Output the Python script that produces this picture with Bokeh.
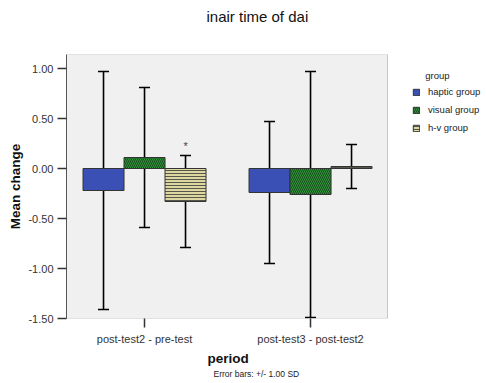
from bokeh.plotting import figure
from bokeh.models import (ColumnDataSource, FixedTicker, Legend, LegendItem, Whisker,
                          TeeHead, Title, NumeralTickFormatter, Range1d, BoxAnnotation)
from bokeh.core.properties import value
from bokeh.embed import file_html
from bokeh.resources import INLINE

periods = ["post-test2 - pre-test", "post-test3 - post-test2"]
groups = ["haptic group", "visual group", "h-v group"]
haptic_mean = [-0.22, -0.24]
haptic_sd = [1.19, 0.71]
visual_mean = [0.11, -0.26]
visual_sd = [0.70, 1.23]
hv_mean = [-0.33, 0.02]
hv_sd = [0.46, 0.22]
y_ticks = [-1.5, -1.0, -0.5, 0.0, 0.5, 1.0]

FONT = "Liberation Sans"
W, H = 486, 383
# plot-area extent (data units); the figure frame extends further right to hold the legend
AREA_X0, AREA_X1 = 0.530, 2.464
AREA_Y0, AREA_Y1 = -1.50, 1.14

p = figure(width=W, height=H, output_backend="svg", toolbar_location=None,
           x_range=Range1d(AREA_X0, 3.060), y_range=Range1d(AREA_Y0, AREA_Y1),
           min_border_left=66, min_border_right=0, min_border_top=54, min_border_bottom=65)
p.background_fill_color = "white"
p.border_fill_color = "white"
p.outline_line_color = None
p.xgrid.visible = False
p.ygrid.visible = False

area = BoxAnnotation(left=AREA_X0, right=AREA_X1, bottom=AREA_Y0, top=AREA_Y1,
                     fill_color="#F0F0F0", fill_alpha=1, line_color="#555555",
                     line_width=1, level="underlay")
p.add_layout(area)

bar_w = 0.247
series = [
    (haptic_mean, haptic_sd, dict(fill_color="#3B50B4")),
    (visual_mean, visual_sd, dict(fill_color="#34AA40", hatch_pattern="\\", hatch_color="#1A4A1E",
                                  hatch_scale=4, hatch_weight=1.1)),
    (hv_mean, hv_sd, dict(fill_color="#DDD8A2", hatch_pattern="-", hatch_color="#474740",
                          hatch_scale=3, hatch_weight=0.9)),
]
items = []
for gi, (means, sds, style) in enumerate(series):
    xs = [i + 1 + (gi - 1) * bar_w for i in range(len(periods))]
    src = ColumnDataSource(dict(x=xs, top=means, bottom=[0] * len(means),
                                upper=[m + s for m, s in zip(means, sds)],
                                lower=[m - s for m, s in zip(means, sds)]))
    r = p.vbar(x="x", width=bar_w, top="top", bottom="bottom", source=src,
               line_color="#333333", line_width=1, **style)
    items.append(LegendItem(label=groups[gi], renderers=[r]))
    w = Whisker(base="x", upper="upper", lower="lower", source=src,
                line_color="black", line_width=1.6,
                upper_head=TeeHead(size=11, line_width=1.6, line_color="black"),
                lower_head=TeeHead(size=11, line_width=1.6, line_color="black"))
    p.add_layout(w)

# significance marker above h-v group, first period
p.text(x=[1 + bar_w], y=[hv_mean[0] + hv_sd[0]], text=["*"], y_offset=-4,
       text_align="center", text_baseline="bottom", text_font=value(FONT),
       text_font_size="11px", text_color="#444444")

legend = Legend(items=items, location=(346, 185), title="\u00a0\u00a0\u00a0\u00a0\u00a0group",
                title_text_font=FONT, title_text_font_size="9.5px", title_text_font_style="normal",
                title_text_color="#222222", title_standoff=5,
                label_text_font=FONT, label_text_font_size="9.5px", label_text_color="#222222",
                glyph_width=8, glyph_height=8, label_height=10, spacing=7, label_standoff=8,
                background_fill_alpha=0, border_line_color=None, padding=0, margin=0)
p.add_layout(legend)

p.yaxis.ticker = FixedTicker(ticks=y_ticks)
p.yaxis.formatter = NumeralTickFormatter(format="0.00")
p.yaxis.axis_label = "Mean change"
p.xaxis.ticker = FixedTicker(ticks=[1, 2])
p.xaxis.major_label_overrides = {i + 1: lab for i, lab in enumerate(periods)}
for ax in (p.xaxis[0], p.yaxis[0]):
    ax.major_tick_out = 9
    ax.major_tick_in = 0
    ax.minor_tick_line_color = None
    ax.axis_line_color = "#555555"
    ax.major_tick_line_color = "#333333"
    ax.major_tick_line_width = 1.5
    ax.major_label_text_font = FONT
    ax.major_label_text_font_size = "11px"
    ax.major_label_text_color = "#333333"
    ax.axis_label_text_font = FONT
    ax.axis_label_text_font_size = "13.5px"
    ax.axis_label_text_font_style = "bold"
    ax.axis_label_text_color = "#111111"
p.xaxis.axis_line_color = None
p.yaxis.major_label_standoff = 4
p.xaxis.major_label_standoff = 5
p.yaxis.axis_label_standoff = 2

# top: spacer then the chart title (titles stack outward from the plot area)
p.title.text = ""
spacer = Title(text="\u00a0", align="left", standoff=0, text_font=FONT,
               text_font_size="20.5px")
p.add_layout(spacer, "above")
main_title = Title(text="inair time of dai", align="left", offset=140,
                   text_font=FONT, text_font_size="15px", text_font_style="normal",
                   text_color="#111111")
p.add_layout(main_title, "above")

xlabel = Title(text="period", align="left", offset=141, standoff=2,
               text_font=FONT, text_font_size="13.5px", text_font_style="bold",
               text_color="#111111")
p.add_layout(xlabel, "below")
foot = Title(text="Error bars: +/- 1.00 SD", align="left", offset=147, standoff=0,
             text_font=FONT, text_font_size="8.5px", text_font_style="normal",
             text_color="#222222")
p.add_layout(foot, "below")

open("out.html", "w").write(file_html(p, INLINE))
